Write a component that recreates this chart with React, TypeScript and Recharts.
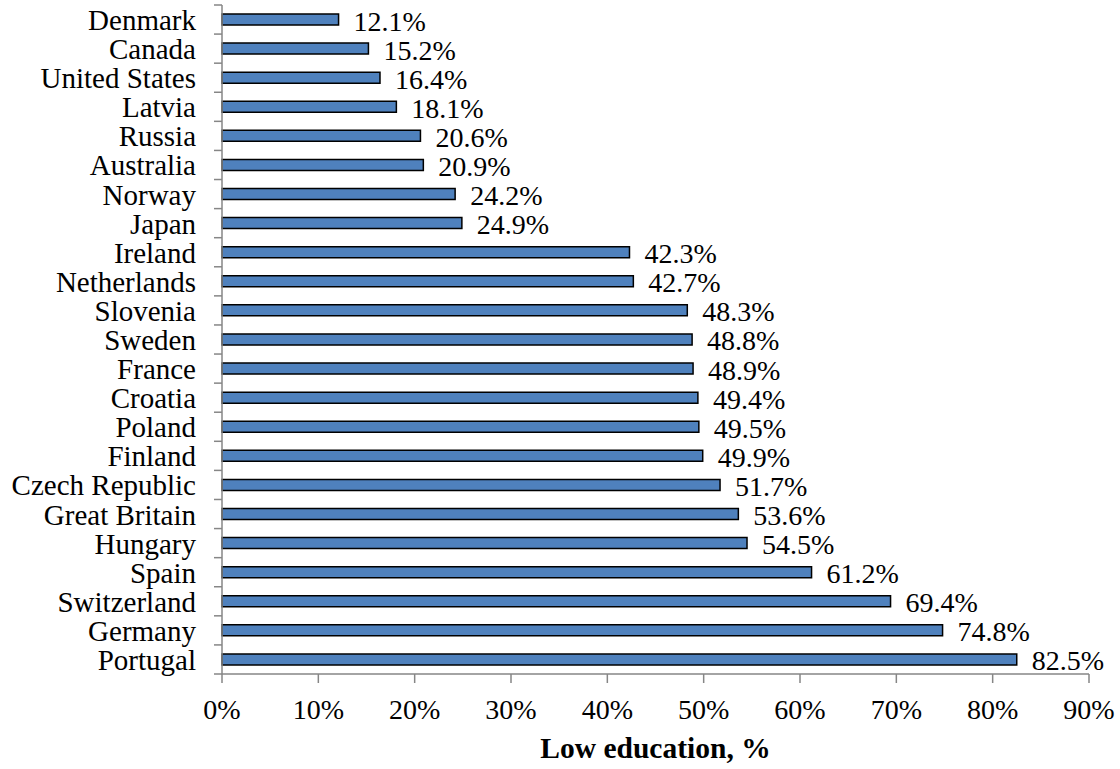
import React from 'react';
import { BarChart, Bar, XAxis, YAxis, LabelList, Label } from 'recharts';

// Share of population with low education, by country (%)
const countries = [
  'Denmark', 'Canada', 'United States', 'Latvia', 'Russia', 'Australia', 'Norway', 'Japan',
  'Ireland', 'Netherlands', 'Slovenia', 'Sweden', 'France', 'Croatia', 'Poland', 'Finland',
  'Czech Republic', 'Great Britain', 'Hungary', 'Spain', 'Switzerland', 'Germany', 'Portugal',
];
const lowEducation = [
  12.1, 15.2, 16.4, 18.1, 20.6, 20.9, 24.2, 24.9,
  42.3, 42.7, 48.3, 48.8, 48.9, 49.4, 49.5, 49.9,
  51.7, 53.6, 54.5, 61.2, 69.4, 74.8, 82.5,
];
const xTicks = [0, 10, 20, 30, 40, 50, 60, 70, 80, 90];

const data = countries.map((country, i) => ({ country, value: lowEducation[i] }));

const WIDTH = 1120;
const HEIGHT = 769;
const MARGIN = { top: 5, right: 31, bottom: 0, left: 0 };
const Y_AXIS_WIDTH = 222;
const X_AXIS_HEIGHT = 95;
const FONT = 'Liberation Serif, Tinos, Times New Roman, serif';
const TEXT_STYLE = { fontFamily: FONT, fontSize: 28 };
const CATEGORY_STYLE = { fontFamily: FONT, fontSize: 29 };
const AXIS_GREY = '#868686';
const BAND = (HEIGHT - MARGIN.top - MARGIN.bottom - X_AXIS_HEIGHT) / countries.length;

const CategoryTick = (props: any) => {
  const { y, payload, index } = props;
  const axisX = Y_AXIS_WIDTH;
  return (
    <g>
      <line x1={axisX - 8} x2={axisX} y1={y - BAND / 2} y2={y - BAND / 2} stroke={AXIS_GREY} strokeWidth={1.5} />
      {index === countries.length - 1 && (
        <line x1={axisX - 8} x2={axisX} y1={y + BAND / 2} y2={y + BAND / 2} stroke={AXIS_GREY} strokeWidth={1.5} />
      )}
      <text x={axisX - 26} y={y + 10.5} textAnchor="end" style={CATEGORY_STYLE} fill="#000">
        {payload.value}
      </text>
    </g>
  );
};

const ValueLabel = (props: any) => {
  const { x, y, width, height, value } = props;
  return (
    <text x={x + width + 15} y={y + height / 2 + 11} style={TEXT_STYLE} fill="#000">
      {`${Number(value).toFixed(1)}%`}
    </text>
  );
};

const PercentTick = (props: any) => {
  const { x, y, payload } = props;
  return (
    <text x={x} y={y + 20} textAnchor="middle" style={TEXT_STYLE} fill="#000">
      {`${payload.value}%`}
    </text>
  );
};

const AxisTitle = (props: any) => {
  const { viewBox } = props;
  return (
    <text
      x={viewBox.x + viewBox.width / 2}
      y={viewBox.y + 84}
      textAnchor="middle"
      style={{ fontFamily: FONT, fontSize: 29.5, fontWeight: 'bold' }}
      fill="#000"
    >
      Low education, %
    </text>
  );
};

export default function App() {
  return (
    <div style={{ position: 'absolute', left: 0, top: 0, width: WIDTH, height: HEIGHT, background: '#fff' }}>
      <BarChart width={WIDTH} height={HEIGHT} data={data} layout="vertical" margin={MARGIN} barSize={11}>
        <XAxis
          type="number"
          domain={[0, 90]}
          ticks={xTicks}
          interval={0}
          height={X_AXIS_HEIGHT}
          axisLine={{ stroke: AXIS_GREY, strokeWidth: 1.5 }}
          tickLine={{ stroke: AXIS_GREY, strokeWidth: 1.5 }}
          tickSize={9}
          tickMargin={16}
          tick={<PercentTick />}
        >
          <Label content={<AxisTitle />} />
        </XAxis>
        <YAxis
          type="category"
          dataKey="country"
          width={Y_AXIS_WIDTH}
          interval={0}
          axisLine={{ stroke: AXIS_GREY, strokeWidth: 1.5 }}
          tickLine={false}
          tick={<CategoryTick />}
        />
        <Bar dataKey="value" fill="#4F81BD" stroke="#000" strokeWidth={1.5} isAnimationActive={false}>
          <LabelList dataKey="value" content={<ValueLabel />} />
        </Bar>
      </BarChart>
    </div>
  );
}
